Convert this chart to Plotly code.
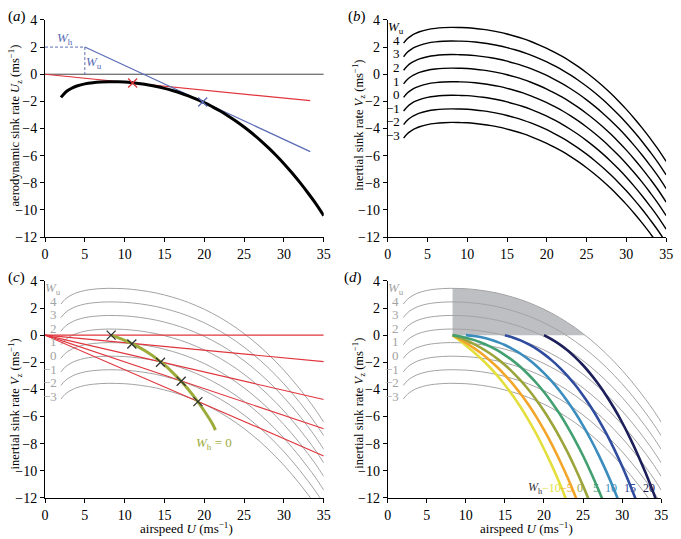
import plotly.graph_objects as go

# aerodynamic polar
airspeed = [2, 2.5, 3, 3.5, 4, 5, 6, 7, 8, 9, 10, 11, 12, 13, 14, 15, 16, 17, 18, 19, 20,
            21, 22, 23, 24, 25, 26, 27, 28, 29, 30, 31, 32, 33, 34, 35]
sink = [-1.71, -1.37, -1.15, -0.99, -0.87, -0.71, -0.62, -0.57, -0.55, -0.56, -0.58, -0.63,
        -0.70, -0.79, -0.90, -1.04, -1.20, -1.38, -1.59, -1.83, -2.09, -2.39, -2.71, -3.07,
        -3.46, -3.89, -4.35, -4.85, -5.39, -5.97, -6.59, -7.26, -7.97, -8.73, -9.53, -10.42]

wu_levels = [4, 3, 2, 1, 0, -1, -2, -3]

# panel (a) tangent lines
red_x = [0, 33.3]
red_y = [0, -1.95]
blue_x = [5, 33.3]
blue_y = [2, -5.7]
touch_a_x = [11.0, 19.8]
touch_a_y = [-0.65, -2.05]

# panel (c) rays from origin and tangent points
ray_end_x = 35
ray_end_y = [0, -1.95, -4.75, -6.9, -8.9]
touch_u = [8.3, 10.9, 14.5, 17.1, 19.2]
touch_v = [0, -0.65, -2.0, -3.4, -4.9]
opt_u = [8.3, 9, 10, 11, 12, 13, 14, 15, 16, 17, 18, 19, 20, 21, 21.4]
opt_v = [0, -0.15, -0.38, -0.65, -0.96, -1.32, -1.73, -2.20, -2.74, -3.34, -4.01, -4.76,
         -5.59, -6.51, -7.0]

# panel (d) optimal-speed curves for each W_h
wh_m10_u = [8.3, 9, 10, 11, 12, 13, 14, 15, 16, 17, 18, 19, 20, 21, 22, 23]
wh_m10_v = [0, -0.31, -0.76, -1.24, -1.76, -2.33, -2.97, -3.67, -4.45, -5.30, -6.24, -7.26,
            -8.39, -9.60, -10.92, -12.36]
wh_m5_u = [8.3, 9, 10, 11, 12, 13, 14, 15, 16, 17, 18, 19, 20, 21, 22, 23, 24, 25]
wh_m5_v = [0, -0.23, -0.57, -0.94, -1.36, -1.83, -2.35, -2.94, -3.59, -4.32, -5.12, -6.01,
           -6.99, -8.05, -9.22, -10.48, -11.86, -13.34]
wh_0_u = [8.3, 9, 10, 11, 12, 13, 14, 15, 16, 17, 18, 19, 20, 21, 22, 23, 24, 25, 26]
wh_0_v = [0, -0.15, -0.38, -0.65, -0.96, -1.32, -1.73, -2.20, -2.74, -3.34, -4.01, -4.76,
          -5.59, -6.51, -7.51, -8.61, -9.81, -11.11, -12.52]
wh_5_u = [8.3, 9, 10, 11, 12, 13, 14, 15, 16, 17, 18, 19, 20, 21, 22, 23, 24, 25, 26, 27, 28]
wh_5_v = [0, -0.06, -0.19, -0.35, -0.56, -0.81, -1.11, -1.47, -1.88, -2.35, -2.90, -3.51,
          -4.19, -4.96, -5.80, -6.74, -7.77, -8.89, -10.12, -11.44, -12.88]
wh_10_u = [10, 11, 12, 13, 14, 15, 16, 17, 18, 19, 20, 21, 22, 23, 24, 25, 26, 27, 28, 29, 30]
wh_10_v = [0, -0.06, -0.16, -0.30, -0.50, -0.73, -1.03, -1.37, -1.78, -2.25, -2.80, -3.41,
           -4.10, -4.87, -5.72, -6.67, -7.71, -8.84, -10.08, -11.43, -12.88]
wh_15_u = [15, 16, 17, 18, 19, 20, 21, 22, 23, 24, 25, 26, 27, 28, 29, 30, 31, 32]
wh_15_v = [0, -0.17, -0.39, -0.67, -1.00, -1.40, -1.86, -2.39, -3.00, -3.68, -4.45, -5.30,
           -6.24, -7.28, -8.42, -9.66, -11.02, -12.48]
wh_20_u = [20, 21, 22, 23, 24, 25, 26, 27, 28, 29, 30, 31, 32, 33, 34, 35]
wh_20_v = [0, -0.31, -0.68, -1.12, -1.64, -2.22, -2.89, -3.64, -4.48, -5.41, -6.44, -7.57,
           -8.81, -10.15, -11.61, -13.19]

wh_levels = [-10, -5, 0, 5, 10, 15, 20]
wh_label_x = [20.9, 22.9, 24.6, 26.7, 28.6, 31.0, 33.4]
wh_colors = ['#e4df3c', '#f4a62a', '#9ca53b', '#42a071', '#3a8dbd', '#2f4c9e', '#1d1f5a']

# shaded region (above V=0, below top W_u curve, right of U=8.3)
shade_u = [8.3, 9, 10, 11, 12, 13, 14, 15, 16, 17, 18, 19, 20, 21, 22, 23, 24, 25, 25.25]
shade_v = [3.45, 3.445, 3.42, 3.37, 3.30, 3.21, 3.10, 2.96, 2.80, 2.62, 2.41, 2.17, 1.91,
           1.61, 1.29, 0.93, 0.54, 0.11, 0]

FONT = 'Liberation Serif'
GREY = '#a3a3a3'
W = 681
H = 539

fig = go.Figure()


def line(x, y, ax, color, width, dash='solid', shape='linear'):
    fig.add_trace(go.Scatter(x=x, y=y, mode='lines', xaxis='x' + ax, yaxis='y' + ax,
                             line=dict(color=color, width=width, dash=dash, shape=shape),
                             showlegend=False, hoverinfo='skip'))


def crosses(x, y, ax, color):
    fig.add_trace(go.Scatter(x=x, y=y, mode='markers', xaxis='x' + ax, yaxis='y' + ax,
                             marker=dict(symbol='x-thin', size=9,
                                         line=dict(color=color, width=1.3)),
                             showlegend=False, hoverinfo='skip'))


# ---- (a)
line([0, 35], [0, 0], '', '#444444', 1)
line([0, 5], [2, 2], '', '#5a6bb5', 1, dash='3px,2px')
line([5, 5], [2, 0], '', '#5a6bb5', 1, dash='3px,2px')
line(red_x, red_y, '', '#e0353d', 1.2)
line(blue_x, blue_y, '', '#5a6bb5', 1.2)
line(airspeed, sink, '', 'black', 3, shape='spline')
crosses(touch_a_x[:1], touch_a_y[:1], '', '#e0353d')
crosses(touch_a_x[1:], touch_a_y[1:], '', '#5a6bb5')

# ---- (b)
for wu in wu_levels:
    line(airspeed, [s + wu for s in sink], '2', 'black', 1.4, shape='spline')

# ---- (c)
for wu in wu_levels:
    line(airspeed, [s + wu for s in sink], '3', GREY, 1, shape='spline')
for ye in ray_end_y:
    line([0, ray_end_x], [0, ye], '3', '#e0353d', 1.1)
line(opt_u, opt_v, '3', '#9cab3a', 3, shape='spline')
crosses(touch_u, touch_v, '3', '#333333')

# ---- (d)
fig.add_trace(go.Scatter(x=[8.3] + shade_u + [8.3], y=[0] + shade_v + [0], mode='lines',
                         xaxis='x4', yaxis='y4', fill='toself', fillcolor='#bebfc3',
                         line=dict(width=0), showlegend=False, hoverinfo='skip'))
for wu in wu_levels:
    line(airspeed, [s + wu for s in sink], '4', GREY, 1, shape='spline')
wh_curves = [(wh_m10_u, wh_m10_v), (wh_m5_u, wh_m5_v), (wh_0_u, wh_0_v), (wh_5_u, wh_5_v),
             (wh_10_u, wh_10_v), (wh_15_u, wh_15_v), (wh_20_u, wh_20_v)]
for (u, v), c in zip(wh_curves, wh_colors):
    line(u, v, '4', c, 2.6, shape='spline')

# ---- axes
panels = {
    '': ([41.7, 325], [13.3, 236.7]),
    '2': ([390, 673], [13.3, 236.7]),
    '3': ([41.7, 325], [281.7, 505]),
    '4': ([390, 668], [281.7, 505]),
}
axis_style = dict(showline=True, linecolor='black', linewidth=1, ticks='outside', ticklen=4,
                  tickcolor='black', showgrid=False, zeroline=False,
                  tickfont=dict(family=FONT, size=14, color='black'))
layout = {}
for k, (xs, ys) in panels.items():
    layout['xaxis' + k] = dict(domain=[xs[0] / W, xs[1] / W], range=[0, 35], dtick=5,
                               anchor='y' + k, **axis_style)
    layout['yaxis' + k] = dict(domain=[1 - ys[1] / H, 1 - ys[0] / H], range=[-12, 4], dtick=2,
                               anchor='x' + k, **axis_style)

ann = []


def text(x, y, s, ref='paper', size=14, color='black', xanchor='center', angle=0, ax=''):
    ref_x = 'paper' if ref == 'paper' else 'x' + ax
    ref_y = 'paper' if ref == 'paper' else 'y' + ax
    if ref == 'paper':
        x, y = x / W, 1 - y / H
    ann.append(dict(x=x, y=y, xref=ref_x, yref=ref_y, text=s, showarrow=False,
                    xanchor=xanchor, yanchor='middle', textangle=angle,
                    font=dict(family=FONT, size=size, color=color)))


# panel letters
text(2, 10, '(<i>a</i>)', size=15, xanchor='left')
text(348, 10, '(<i>b</i>)', size=15, xanchor='left')
text(2, 278, '(<i>c</i>)', size=15, xanchor='left')
text(344, 278, '(<i>d</i>)', size=15, xanchor='left')

# axis titles
ms = ' (ms<sup>−1</sup>)'
text(11, 122, 'aerodynamic sink rate <i>U</i><sub>z</sub>' + ms, size=12.5, angle=-90)
text(360, 122, 'inertial sink rate <i>V</i><sub>z</sub>' + ms, size=12.5, angle=-90)
text(11, 408, 'inertial sink rate <i>V</i><sub>z</sub>' + ms, size=12.5, angle=-90)
text(360, 408, 'inertial sink rate <i>V</i><sub>z</sub>' + ms, size=12.5, angle=-90)
text(185, 536, 'airspeed <i>U</i>' + ms, size=13)
text(531, 536, 'airspeed <i>U</i>' + ms, size=13)

# (a) labels
text(2.46, 2.66, '<i>W</i><sub>h</sub>', ref='data', color='#5a6bb5', size=13)
text(6.1, 0.85, '<i>W</i><sub>u</sub>', ref='data', color='#5a6bb5', size=13)

# W_u labels on (b), (c), (d)
for ax, col in [('2', 'black'), ('3', GREY), ('4', GREY)]:
    text(2.3, 3.45, '<i>W</i><sub>u</sub>', ref='data', ax=ax, color=col, size=13,
         xanchor='right')
    for wu in wu_levels:
        lab = str(wu).replace('-', '−')
        text(1.75, wu - 1.5, lab, ref='data', ax=ax, color=col, size=13, xanchor='right')

# (c) W_h = 0 label
text(21.2, -8.0, '<i>W</i><sub>h</sub> = 0', ref='data', ax='3', color='#9cab3a', size=13)

# (d) W_h labels
text(18.9, -11.3, '<i>W</i><sub>h</sub>', ref='data', ax='4', color='#333333', size=12)
for wh, xl, c in zip(wh_levels, wh_label_x, wh_colors):
    text(xl, -11.3, str(wh).replace('-', '−'), ref='data', ax='4', color=c, size=12)

fig.update_layout(width=W, height=H, margin=dict(l=0, r=0, t=0, b=0),
                  paper_bgcolor='white', plot_bgcolor='white', annotations=ann,
                  font=dict(family=FONT), **layout)
fig.write_html('out.html', config={'displayModeBar': False},
               post_script="document.body.style.margin='0px';")
